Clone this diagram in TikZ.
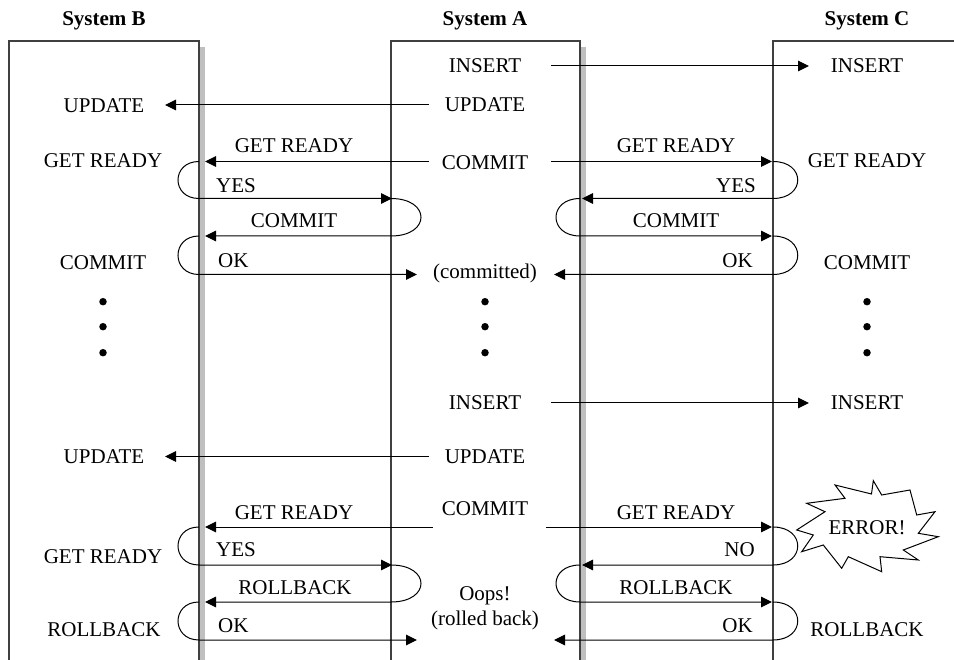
\documentclass[tikz,border=0pt]{standalone}
\usepackage{fontspec}
\setmainfont{Liberation Serif}
\usetikzlibrary{arrows.meta}
\begin{document}
\begin{tikzpicture}[x=1pt,y=-1pt,
  txt/.style={font=\fontsize{21}{25}\selectfont, inner sep=0pt, anchor=base},
  txtw/.style={txt, anchor=base west},
  txte/.style={txt, anchor=base east},
  ttl/.style={font=\fontsize{21}{25}\selectfont\bfseries, inner sep=0pt, anchor=base},
  boxline/.style={draw=black!75, line width=1.6pt},
  shadowfill/.style={fill=black!25},
  msg/.style={line width=1pt, -{Triangle[length=11pt,width=10.5pt]}},
  bigdot/.style={circle, fill=black, inner sep=0pt, minimum size=7.5pt},
  burst/.style={draw=black, line width=1pt, fill=white, line join=miter},
]
\useasboundingbox (0,0) rectangle (954,660);
\fill[white] (0,0) rectangle (954,660);

% shadows
\fill[shadowfill] (199.8,47) rectangle (204.5,661);
\fill[shadowfill] (580.8,47) rectangle (585.5,661);
% boxes
\draw[boxline] (9,662) -- (9,41) -- (199,41) -- (199,662);
\draw[boxline] (391,662) -- (391,41) -- (580,41) -- (580,662);
\draw[boxline] (773,662) -- (773,41) -- (956,41);

% titles
\node[ttl] (tB) at (104,25.5) {System B};
\node[ttl] (tA) at (485,25.5) {System A};
\node[ttl] (tC) at (867,25.5) {System C};

% System A texts
\node[txt] (insA1) at (485,72.7) {INSERT};
\node[txt] (updA1) at (485,111.7) {UPDATE};
\node[txt] (comA1) at (485,169.3) {COMMIT};
\node[txt] (cmtd) at (485,278.3) {(committed)};
\node[txt] (insA2) at (485,410) {INSERT};
\node[txt] (updA2) at (485,463.5) {UPDATE};
\node[txt] (comA2) at (485,515) {COMMIT};
\node[txt] (oops) at (485,600) {Oops!};
\node[txt] (rolled) at (485,625) {(rolled back)};

% System B texts
\node[txt] (updB1) at (104,112.5) {UPDATE};
\node[txt] (grB1) at (103,167.7) {GET READY};
\node[txt] (comB1) at (103,269.3) {COMMIT};
\node[txt] (updB2) at (104,463.5) {UPDATE};
\node[txt] (grB2) at (103,563.3) {GET READY};
\node[txt] (rbB2) at (104,636.7) {ROLLBACK};

% System C texts
\node[txt] (insC1) at (867,72.7) {INSERT};
\node[txt] (grC1) at (867,167.7) {GET READY};
\node[txt] (comC1) at (867,269.3) {COMMIT};
\node[txt] (insC2) at (867,410) {INSERT};
\node[txt] (rbC2) at (867,636.7) {ROLLBACK};

% message labels, left
\node[txt] (lGr1) at (294,152.5) {GET READY};
\node[txtw] (lYes1) at (216,192.7) {YES};
\node[txt] (lCom1) at (294,227.3) {COMMIT};
\node[txtw] (lOk1) at (218,267.7) {OK};
\node[txt] (lGr2) at (294,519.3) {GET READY};
\node[txtw] (lYes2) at (216,556.7) {YES};
\node[txt] (lRb2) at (295,594.3) {ROLLBACK};
\node[txtw] (lOk2) at (218,632.7) {OK};

% message labels, right
\node[txt] (rGr1) at (676,152.5) {GET READY};
\node[txte] (rYes1) at (756,192.7) {YES};
\node[txt] (rCom1) at (676,227.3) {COMMIT};
\node[txte] (rOk1) at (753,267.7) {OK};
\node[txt] (rGr2) at (676,519.3) {GET READY};
\node[txte] (rNo2) at (755,556) {NO};
\node[txt] (rRb2) at (676,594.3) {ROLLBACK};
\node[txte] (rOk2) at (753,632.7) {OK};

% dots
\foreach \x/\n in {103/B,485/A,867/C}{
  \node[bigdot] (d1\n) at (\x,301.7) {};
  \node[bigdot] (d2\n) at (\x,326.7) {};
  \node[bigdot] (d3\n) at (\x,352.7) {};
}

% ERROR burst
\draw[burst] (873.3,480.7) -- (881.7,495) -- (910,490) -- (916.7,515) -- (935,511.7)
  -- (918.3,533.3) -- (938.3,536.7) -- (903.3,550) -- (918.3,560) -- (880,556.7)
  -- (881.7,571.7) -- (848.3,556.7) -- (841.7,568.3) -- (823.3,545) -- (801.7,551.7)
  -- (813.3,535) -- (796.7,530) -- (825,511.7) -- (806.7,503.3) -- (845,498.3)
  -- (835,485) -- (871.5,494) -- cycle;
\node[txt] (err) at (867,534) {ERROR!};

% connector end points
\coordinate (aR1) at (551,66);   \coordinate (cI1) at (809,66);
\coordinate (aL2) at (429,105);  \coordinate (bU1) at (165,105);
\coordinate (aL3) at (429,161.5); \coordinate (bE3) at (205,161.5);
\coordinate (aR3) at (551,161.5); \coordinate (cE3) at (772,161.5);
\coordinate (bL1) at (199,161.5); \coordinate (bL2) at (199,198.5);
\coordinate (aE4) at (392,198.5);
\coordinate (cL1) at (773,161.5); \coordinate (cL2) at (773,198.5);
\coordinate (aE5) at (582,198.5);
\coordinate (aLl1) at (391,198.5); \coordinate (aLl2) at (391,236);
\coordinate (bE6) at (205,236);
\coordinate (aRl1) at (580,198.5); \coordinate (aRl2) at (580,236);
\coordinate (cE6) at (772,236);
\coordinate (bL3) at (199,236); \coordinate (bL4) at (199,274.5);
\coordinate (aC1) at (417,274.5);
\coordinate (cL3) at (773,236); \coordinate (cL4) at (773,274.5);
\coordinate (aC2) at (554,274.5);

\coordinate (aR8) at (551,403);  \coordinate (cI2) at (809,403);
\coordinate (aL9) at (429,456.5); \coordinate (bU2) at (165,456.5);
\coordinate (aL10) at (433,527); \coordinate (bE10) at (205,527);
\coordinate (aR10) at (546,527); \coordinate (cE10) at (772,527);
\coordinate (bM1) at (199,527); \coordinate (bM2) at (199,565);
\coordinate (aE11) at (392,565);
\coordinate (cM1) at (773,527); \coordinate (cM2) at (773,565);
\coordinate (aE12) at (582,565);
\coordinate (aLm1) at (391,565); \coordinate (aLm2) at (391,602);
\coordinate (bE13) at (205,602);
\coordinate (aRm1) at (580,565); \coordinate (aRm2) at (580,602);
\coordinate (cE13) at (772,602);
\coordinate (bM3) at (199,602); \coordinate (bM4) at (199,640);
\coordinate (aO1) at (417,640);
\coordinate (cM3) at (773,602); \coordinate (cM4) at (773,640);
\coordinate (aO2) at (554,640);

% --- first transaction
\draw[msg] (aR1) -- (cI1);
\draw[msg] (aL2) -- (bU1);
\draw[msg] (aL3) -- (bE3);
\draw[msg] (aR3) -- (cE3);
\draw[msg] (bL1) .. controls +(-28,0) and +(-28,0) .. (bL2) -- (aE4);
\draw[msg] (cL1) .. controls +(33,0) and +(33,0) .. (cL2) -- (aE5);
\draw[msg] (aLl1) .. controls +(40,0) and +(40,0) .. (aLl2) -- (bE6);
\draw[msg] (aRl1) .. controls +(-32,0) and +(-32,0) .. (aRl2) -- (cE6);
\draw[msg] (bL3) .. controls +(-28,0) and +(-28,0) .. (bL4) -- (aC1);
\draw[msg] (cL3) .. controls +(33,0) and +(33,0) .. (cL4) -- (aC2);

% --- second transaction
\draw[msg] (aR8) -- (cI2);
\draw[msg] (aL9) -- (bU2);
\draw[msg] (aL10) -- (bE10);
\draw[msg] (aR10) -- (cE10);
\draw[msg] (bM1) .. controls +(-28,0) and +(-28,0) .. (bM2) -- (aE11);
\draw[msg] (cM1) .. controls +(33,0) and +(33,0) .. (cM2) -- (aE12);
\draw[msg] (aLm1) .. controls +(40,0) and +(40,0) .. (aLm2) -- (bE13);
\draw[msg] (aRm1) .. controls +(-32,0) and +(-32,0) .. (aRm2) -- (cE13);
\draw[msg] (bM3) .. controls +(-28,0) and +(-28,0) .. (bM4) -- (aO1);
\draw[msg] (cM3) .. controls +(33,0) and +(33,0) .. (cM4) -- (aO2);
\end{tikzpicture}
\end{document}
